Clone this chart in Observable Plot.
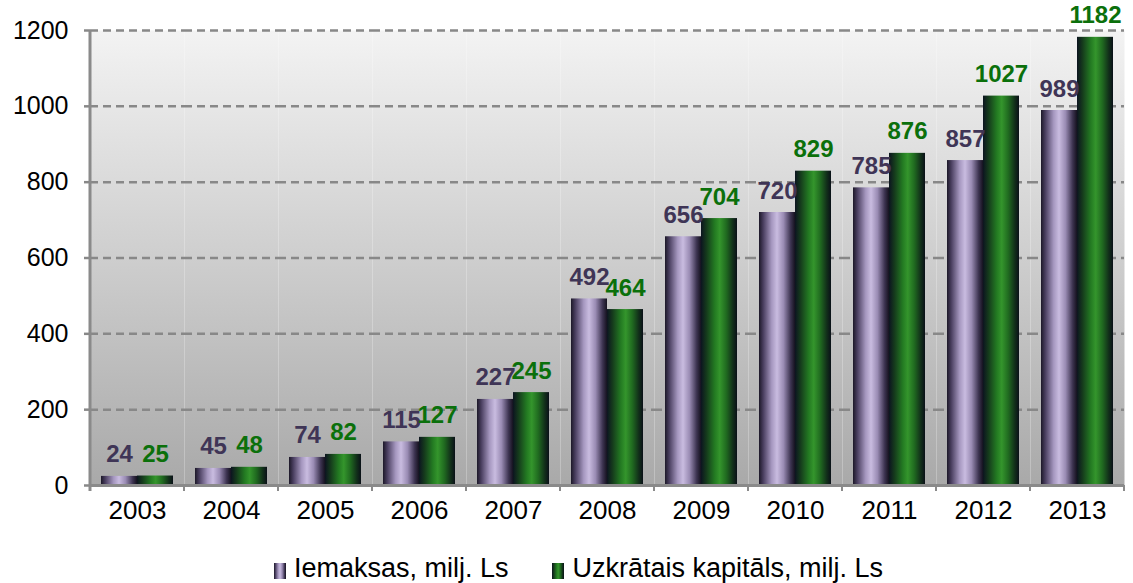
<!DOCTYPE html>
<html>
<head>
<meta charset="utf-8">
<script src="https://cdn.jsdelivr.net/npm/d3@7"></script>
<script src="https://cdn.jsdelivr.net/npm/@observablehq/plot@0.6"></script>
<style>
  html, body { margin: 0; padding: 0; background: #ffffff; }
  #wrap { width: 1133px; height: 583px; position: relative; font-family: "Liberation Sans", Arial, sans-serif; }
  #legend { position: absolute; left: 0; top: 552px; width: 1133px; height: 32px; display: flex; justify-content: center; align-items: center; padding-left: 24px; box-sizing: border-box; font-size: 27px; color: #000; }
  .item { display: flex; align-items: center; margin: 0 22px; white-space: nowrap; }
  .sw { width: 12px; height: 16px; margin-right: 8px; margin-top: 5px; }
</style>
</head>
<body>
<svg width="0" height="0" style="position:absolute">
  <defs>
    <linearGradient id="gBg" x1="0" y1="0" x2="0" y2="1">
      <stop offset="0" stop-color="#f3f3f3"/>
      <stop offset="1" stop-color="#a9a9a9"/>
    </linearGradient>
    <linearGradient id="gPurple" x1="0" y1="0" x2="1" y2="0">
      <stop offset="0" stop-color="#1c1828"/>
      <stop offset="0.12" stop-color="#4a3f60"/>
      <stop offset="0.35" stop-color="#a597bf"/>
      <stop offset="0.5" stop-color="#c9bce0"/>
      <stop offset="0.68" stop-color="#9a8cb4"/>
      <stop offset="0.88" stop-color="#3c3350"/>
      <stop offset="1" stop-color="#15121f"/>
    </linearGradient>
    <linearGradient id="gGreen" x1="0" y1="0" x2="1" y2="0">
      <stop offset="0" stop-color="#0c1420"/>
      <stop offset="0.15" stop-color="#153a1c"/>
      <stop offset="0.38" stop-color="#237a22"/>
      <stop offset="0.52" stop-color="#34952c"/>
      <stop offset="0.7" stop-color="#206b20"/>
      <stop offset="0.88" stop-color="#12301a"/>
      <stop offset="1" stop-color="#0a1018"/>
    </linearGradient>
  </defs>
</svg>
<div id="wrap">
  <div id="chart"></div>
  <div id="legend"></div>
</div>
<script>
const years = ["2003", "2004", "2005", "2006", "2007", "2008", "2009", "2010", "2011", "2012", "2013"];
const iemaksas = [24, 45, 74, 115, 227, 492, 656, 720, 785, 857, 989];
const kapitals = [25, 48, 82, 127, 245, 464, 704, 829, 876, 1027, 1182];
const seriesNames = ["Iemaksas, milj. Ls", "Uzkrātais kapitāls, milj. Ls"];
const yTicks = [0, 200, 400, 600, 800, 1000, 1200];

const seriesFill = {[seriesNames[0]]: "url(#gPurple)", [seriesNames[1]]: "url(#gGreen)"};
const seriesText = {[seriesNames[0]]: "#3f3556", [seriesNames[1]]: "#0b700b"};

const data = years.flatMap((yr, i) => [
  {year: yr, series: seriesNames[0], value: iemaksas[i]},
  {year: yr, series: seriesNames[1], value: kapitals[i]}
]);

const plot = Plot.plot({
  width: 1133,
  height: 540,
  marginLeft: 86,
  marginRight: 5,
  marginTop: 30,
  marginBottom: 55,
  style: {fontFamily: "'Liberation Sans', Arial, sans-serif", fontSize: "25px", color: "#000", background: "transparent", overflow: "visible"},
  fx: {domain: years, padding: 0, label: null},
  x: {domain: seriesNames, paddingInner: 0, paddingOuter: 0.28, axis: null},
  y: {domain: [0, 1200], axis: null},
  marks: [
    Plot.frame({fill: "url(#gBg)", stroke: null}),
    Plot.gridY(yTicks, {stroke: "#888888", strokeOpacity: 1, strokeWidth: 2.5, strokeDasharray: "8,5"}),
    Plot.axisY(yTicks, {tickSize: 6, tickPadding: 16, stroke: "#888888", strokeWidth: 2.5, fontSize: 25, tickFormat: d => String(d), label: null}),
    Plot.axisFx({anchor: "bottom", tickSize: 0, tickPadding: 15, fontSize: 26, label: null}),
    Plot.barY(data, {fx: "year", x: "series", y: "value", fill: d => seriesFill[d.series]}),
    Plot.ruleY([0], {stroke: "#8a8a8a", strokeWidth: 3}),
    Plot.text(data, {fx: "year", x: "series", y: "value", text: d => String(d.value), fill: d => seriesText[d.series], fontSize: 24, fontWeight: "bold", lineAnchor: "bottom", dy: -14})
  ]
});

// left axis line and category separator ticks, positioned through the plot's own scales
const fxS = plot.scale("fx"), yS = plot.scale("y");
const svg = d3.select(plot);
const x0 = fxS.apply(years[0]);
const g = svg.append("g").attr("stroke", "#8a8a8a").attr("stroke-width", 3);
g.append("line").attr("x1", x0).attr("x2", x0).attr("y1", yS.apply(1200)).attr("y2", yS.apply(0) + 1);
years.forEach(yr => {
  const xb = fxS.apply(yr) + fxS.bandwidth;
  g.append("line").attr("x1", xb).attr("x2", xb).attr("y1", yS.apply(0)).attr("y2", yS.apply(0) + 6).attr("stroke-width", 2);
});
g.append("line").attr("x1", x0).attr("x2", x0).attr("y1", yS.apply(0)).attr("y2", yS.apply(0) + 6);

document.getElementById("chart").appendChild(plot);

const legend = document.getElementById("legend");
seriesNames.forEach(name => {
  const item = document.createElement("div");
  item.className = "item";
  item.innerHTML = `<svg class="sw" width="12" height="16"><rect width="12" height="16" fill="${seriesFill[name]}"/></svg><span>${name}</span>`;
  legend.appendChild(item);
});
</script>
</body>
</html>
